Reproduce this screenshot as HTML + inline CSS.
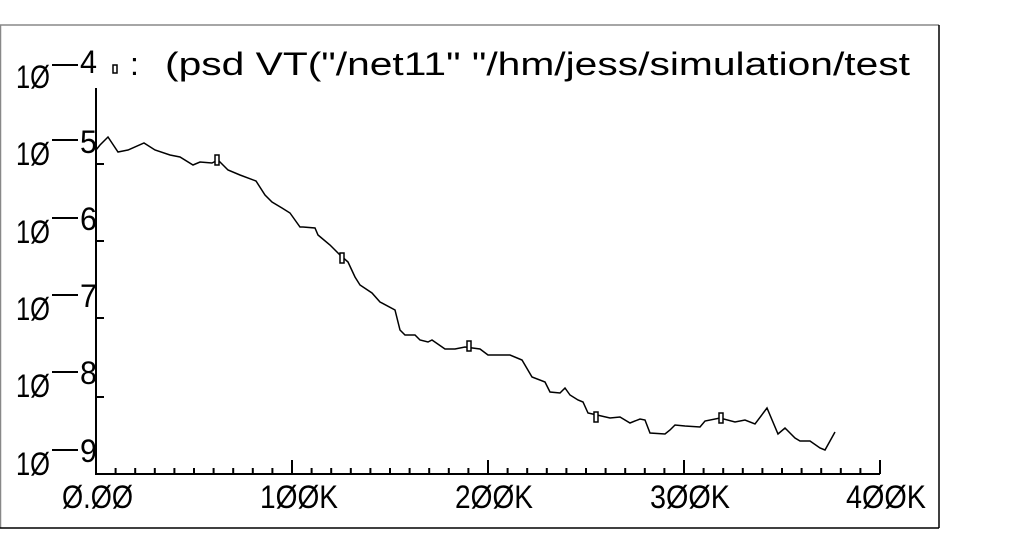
<!DOCTYPE html>
<html><head><style>
html,body{margin:0;padding:0;background:#fff;}
svg{display:block;}
text{font-family:"Liberation Sans","DejaVu Sans",sans-serif;fill:#000;}
</style></head><body>
<svg width="1013" height="554" viewBox="0 0 1013 554">
<rect width="1013" height="554" fill="#fff"/>
<line x1="0.5" y1="25" x2="0.5" y2="528" stroke="#888" stroke-width="1.5"/>
<line x1="0" y1="25" x2="939" y2="25" stroke="#888" stroke-width="1.5"/>
<line x1="939" y1="25" x2="939" y2="528" stroke="#000" stroke-width="1.5"/>
<line x1="0" y1="528" x2="939" y2="528" stroke="#000" stroke-width="1.5"/>
<g font-size="32">
<text x="16" y="88" textLength="34" lengthAdjust="spacingAndGlyphs">1Ø</text>
<text x="80" y="73" textLength="17" lengthAdjust="spacingAndGlyphs">4</text>
<text x="16" y="165" textLength="34" lengthAdjust="spacingAndGlyphs">1Ø</text>
<text x="80" y="153" textLength="17" lengthAdjust="spacingAndGlyphs">5</text>
<text x="16" y="243" textLength="34" lengthAdjust="spacingAndGlyphs">1Ø</text>
<text x="80" y="230" textLength="17" lengthAdjust="spacingAndGlyphs">6</text>
<text x="16" y="320" textLength="34" lengthAdjust="spacingAndGlyphs">1Ø</text>
<text x="80" y="307" textLength="17" lengthAdjust="spacingAndGlyphs">7</text>
<text x="16" y="397" textLength="34" lengthAdjust="spacingAndGlyphs">1Ø</text>
<text x="80" y="384" textLength="17" lengthAdjust="spacingAndGlyphs">8</text>
<text x="16" y="475" textLength="34" lengthAdjust="spacingAndGlyphs">1Ø</text>
<text x="80" y="462" textLength="17" lengthAdjust="spacingAndGlyphs">9</text>
<text x="130" y="75">:</text>
<text x="165" y="75" textLength="745" lengthAdjust="spacingAndGlyphs">(psd VT("/net11" "/hm/jess/simulation/test</text>
<text x="62" y="508" textLength="71" lengthAdjust="spacingAndGlyphs">Ø.ØØ</text>
<text x="260" y="508" textLength="78" lengthAdjust="spacingAndGlyphs">1ØØK</text>
<text x="455" y="508" textLength="78" lengthAdjust="spacingAndGlyphs">2ØØK</text>
<text x="650" y="508" textLength="80" lengthAdjust="spacingAndGlyphs">3ØØK</text>
<text x="846" y="508" textLength="80" lengthAdjust="spacingAndGlyphs">4ØØK</text>
</g>
<rect x="113" y="65" width="4" height="8" fill="none" stroke="#000" stroke-width="1.5"/>
<g stroke="#000" stroke-width="2" fill="none">
<line x1="52" y1="65" x2="78" y2="65"/>
<line x1="52" y1="140" x2="78" y2="140"/>
<line x1="52" y1="218" x2="78" y2="218"/>
<line x1="52" y1="295" x2="78" y2="295"/>
<line x1="52" y1="372" x2="78" y2="372"/>
<line x1="52" y1="450" x2="78" y2="450"/>
<line x1="96" y1="88" x2="96" y2="475"/>
<line x1="96" y1="474" x2="880" y2="474"/>
<line x1="96" y1="164" x2="104" y2="164"/>
<line x1="96" y1="241" x2="104" y2="241"/>
<line x1="96" y1="318" x2="104" y2="318"/>
<line x1="96" y1="397" x2="104" y2="397"/>
<line x1="292" y1="460" x2="292" y2="474"/>
<line x1="488" y1="460" x2="488" y2="474"/>
<line x1="684" y1="460" x2="684" y2="474"/>
<line x1="880" y1="460" x2="880" y2="474"/>
<path d="M115.6,468V474M135.2,468V474M154.8,468V474M174.4,468V474M194,468V474M213.6,468V474M233.2,468V474M252.8,468V474M272.4,468V474
M311.6,468V474M331.2,468V474M350.8,468V474M370.4,468V474M390,468V474M409.6,468V474M429.2,468V474M448.8,468V474M468.4,468V474
M507.6,468V474M527.2,468V474M546.8,468V474M566.4,468V474M586,468V474M605.6,468V474M625.2,468V474M644.8,468V474M664.4,468V474
M703.6,468V474M723.2,468V474M742.8,468V474M762.4,468V474M782,468V474M801.6,468V474M821.2,468V474M840.8,468V474M860.4,468V474"/>
</g>
<path d="M96,150 L100,145 L108,137 L118,152 L128,150 L144,143 L155,150 L170,155 L180,157 L193,165 L200,162 L212,163 L218,160 L228,170 L240,175 L256,181 L265,195 L272,202 L282,208 L290,213 L300,227 L303,227 L315,228 L318,235 L330,245 L340,255 L348,262 L355,277 L360,285 L372,293 L380,302 L395,310 L400,330 L405,335 L415,335 L420,340 L428,342 L432,340 L445,349 L455,349 L465,347 L480,349 L488,355 L500,355 L510,355 L522,360 L532,377 L545,382 L550,392 L560,393 L565,388 L570,395 L578,400 L583,402 L588,413 L597,415 L610,418 L620,417 L630,423 L640,419 L645,420 L650,433 L665,434 L670,430 L675,425 L685,426 L700,427 L705,421 L720,418 L735,422 L745,420 L755,424 L767,408 L778,434 L785,428 L795,438 L800,441 L810,441 L820,448 L825,450 L835,432" fill="none" stroke="#000" stroke-width="1.5"/>
<g fill="#fff" stroke="#000" stroke-width="1.5">
<rect x="215" y="155" width="4" height="10"/>
<rect x="340" y="253" width="4" height="10"/>
<rect x="467" y="341" width="4" height="10"/>
<rect x="594" y="412" width="4" height="10"/>
<rect x="719" y="413" width="4" height="10"/>
</g>
</svg>
</body></html>
